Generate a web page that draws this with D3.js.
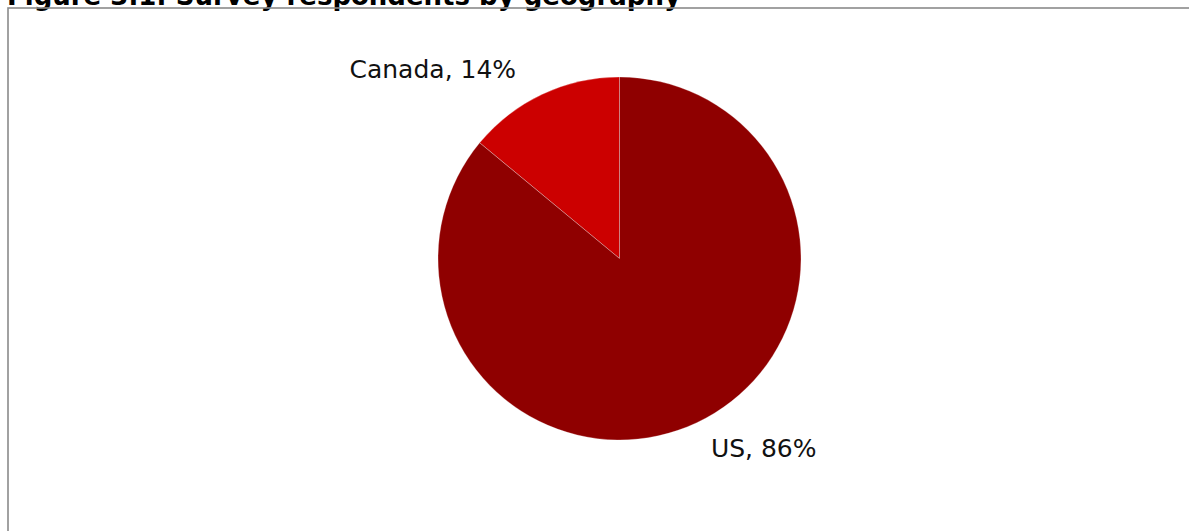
<!DOCTYPE html>
<html>
<head>
<meta charset="utf-8">
<script src="https://cdn.jsdelivr.net/npm/d3@7/dist/d3.min.js"></script>
<style>
  html, body { margin: 0; padding: 0; background: #fff; overflow: hidden; }
  svg { display: block; }
</style>
</head>
<body>
<svg id="chart" width="1189" height="531"></svg>
<script>
// Survey respondents by geography (share of respondents, %)
const categories = ["Canada", "US"];
const shares = [14, 86];
const sliceColors = ["#cc0000", "#8f0000"];
const title = "Figure 3.1: Survey respondents by geography";

const W = 1189, H = 531;
const cx = 619.5, cy = 258.5, radius = 181.5;

const svg = d3.select("#chart");

// Title (sits above the frame)
svg.append("text")
  .attr("x", 7)
  .attr("y", 4.5)
  .attr("font-family", "DejaVu Sans, Verdana, sans-serif")
  .attr("font-weight", "bold")
  .attr("font-size", 26)
  .attr("fill", "#000")
  .text(title);

// Chart frame
svg.append("rect")
  .attr("x", 8)
  .attr("y", 8)
  .attr("width", W + 20)
  .attr("height", H + 20)
  .attr("fill", "none")
  .attr("stroke", "#8a8a8a")
  .attr("stroke-width", 1.6);

const data = categories.map((c, i) => ({ name: c, value: shares[i], color: sliceColors[i] }));

// Canada runs counter-clockwise from 12 o'clock, US fills the rest
const pie = d3.pie()
  .value(d => d.value)
  .sort(null)
  .startAngle(-2 * Math.PI * shares[0] / 100)
  .endAngle(2 * Math.PI - 2 * Math.PI * shares[0] / 100);

const arc = d3.arc().innerRadius(0).outerRadius(radius);
const labelArc = d3.arc().innerRadius(210).outerRadius(210);

const g = svg.append("g").attr("transform", `translate(${cx},${cy})`);

const arcs = pie(data);

g.selectAll("path.slice")
  .data(arcs)
  .join("path")
  .attr("class", "slice")
  .attr("d", arc)
  .attr("fill", d => d.data.color)
  .attr("stroke", "rgba(255,255,255,0.35)")
  .attr("stroke-width", 0.8);

g.selectAll("text.label")
  .data(arcs)
  .join("text")
  .attr("class", "label")
  .each(function (d) {
    const [x, y] = labelArc.centroid(d);
    const mid = (d.startAngle + d.endAngle) / 2;
    const right = Math.sin(mid) > 0;
    d3.select(this)
      .attr("x", right ? x + 2 : x - 14)
      .attr("y", right ? y : y + 1)
      .attr("dy", "0.35em")
      .attr("text-anchor", right ? "start" : "end");
  })
  .attr("font-family", "DejaVu Sans, Verdana, sans-serif")
  .attr("font-size", 25)
  .attr("fill", "#111")
  .text(d => `${d.data.name}, ${d.data.value}%`);
</script>
</body>
</html>
